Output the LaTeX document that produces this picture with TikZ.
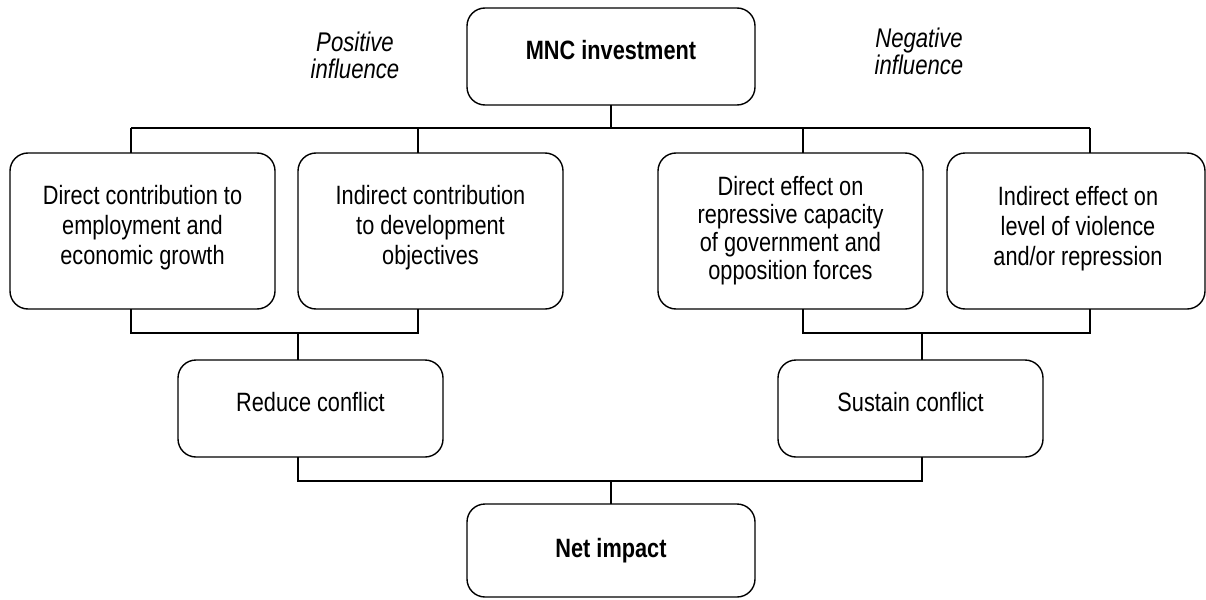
\documentclass[tikz,border=0pt]{standalone}
\usepackage{fontspec}
\setmainfont{Liberation Sans}[FakeStretch=0.82]
\begin{document}
\begin{tikzpicture}[x=1pt,y=-1pt,
  box/.style={draw, line width=1.4pt, rounded corners=18pt, inner sep=0pt, outer sep=0pt, minimum width=265pt, minimum height=156pt},
  smallbox/.style={box, minimum height=97pt},
  bigbox/.style={box, minimum width=288pt, minimum height=97pt},
  txt/.style={align=center, inner sep=0pt, font=\fontsize{26.5}{30}\selectfont},
  boldtxt/.style={txt, font=\fontsize{26.5}{30}\selectfont\bfseries},
  itxt/.style={txt, font=\fontsize{27}{27}\selectfont\itshape},
  conn/.style={line width=1.2pt}]
\useasboundingbox (0,0) rectangle (1206,599);

% boxes
\node[bigbox] (mnc) at (611,56.5) {};
\node[boldtxt, anchor=base] (mnct) at (611,60) {MNC investment};

\node[itxt] (pos) at (355,55.5) {Positive\\influence};
\node[itxt] (neg) at (919,51.5) {Negative\\influence};

\node[box] (b1) at (142.5,231) {};
\node[txt] (b1t) at (142.5,228) {Direct contribution to\\employment and\\economic growth};
\node[box] (b2) at (430.5,231) {};
\node[txt] (b2t) at (430.5,227.5) {Indirect contribution\\to development\\objectives};
\node[box] (b3) at (790.5,231) {};
\node[txt, font=\fontsize{26.5}{28}\selectfont] (b3t) at (790.5,231) {Direct effect on\\repressive capacity\\of government and\\opposition forces};
\node[box, minimum width=258pt] (b4) at (1076,231) {};
\node[txt] (b4t) at (1078,228.5) {Indirect effect on\\level of violence\\and/or repression};

\node[smallbox] (red) at (310.5,408.5) {};
\node[txt, anchor=base] (redt) at (310.5,411) {Reduce conflict};
\node[smallbox] (sus) at (910.5,408.5) {};
\node[txt, anchor=base] (sust) at (910.5,411) {Sustain conflict};

\node[bigbox, minimum height=93pt] (net) at (611,550.5) {};
\node[boldtxt, anchor=base] (nett) at (611,557) {Net impact};

% junction coordinates
\coordinate (t0) at (611,128);
\coordinate (t1) at (131,128);
\coordinate (t2) at (418,128);
\coordinate (t3) at (803,128);
\coordinate (t4) at (1090,128);
\coordinate (l1) at (131,333);
\coordinate (l2) at (418,333);
\coordinate (lm) at (298,333);
\coordinate (r1) at (803,333);
\coordinate (r2) at (1090,333);
\coordinate (rm) at (922,333);
\coordinate (m1) at (298,481);
\coordinate (m2) at (922,481);
\coordinate (mm) at (611,481);

% connectors
\draw[conn] (mnc.south) -- (t0);
\draw[conn] (t1) -- (t4);
\draw[conn] (t1) -- (t1 |- b1.north);
\draw[conn] (t2) -- (t2 |- b2.north);
\draw[conn] (t3) -- (t3 |- b3.north);
\draw[conn] (t4) -- (t4 |- b4.north);

\draw[conn] (l1 |- b1.south) -- (l1) -- (l2) -- (l2 |- b2.south);
\draw[conn] (lm) -- (lm |- red.north);
\draw[conn] (r1 |- b3.south) -- (r1) -- (r2) -- (r2 |- b4.south);
\draw[conn] (rm) -- (rm |- sus.north);

\draw[conn] (m1 |- red.south) -- (m1) -- (m2) -- (m2 |- sus.south);
\draw[conn] (mm) -- (net.north);
\end{tikzpicture}
\end{document}
